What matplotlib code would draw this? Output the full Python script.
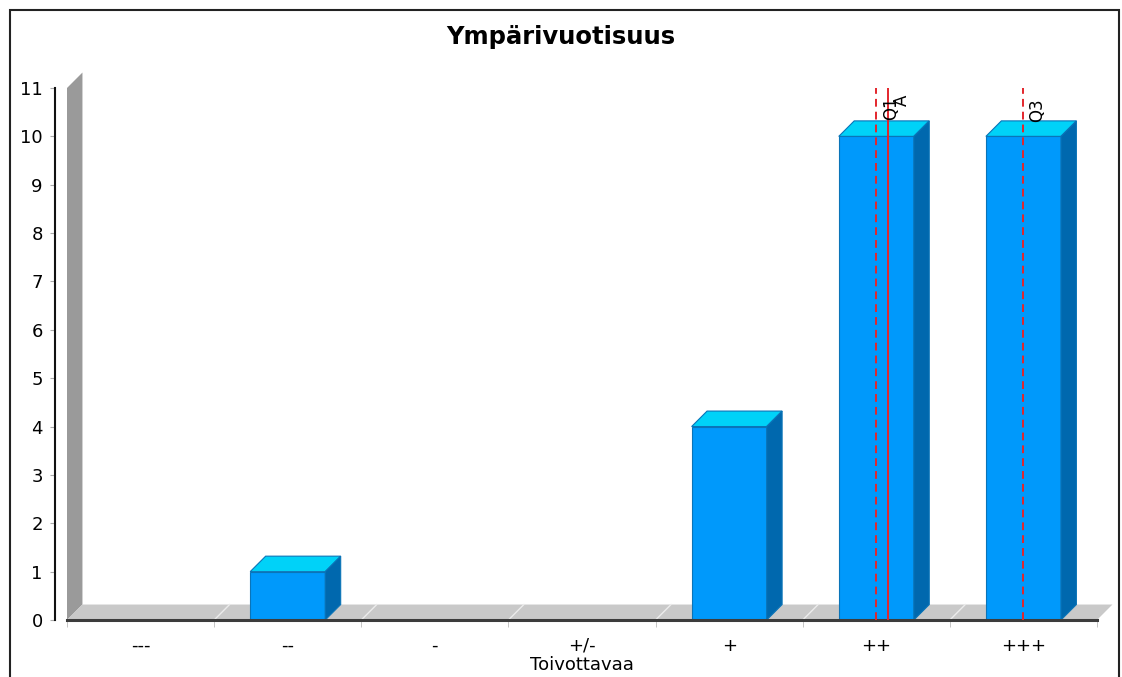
import numpy as np
import matplotlib.pyplot as plt
from matplotlib.patches import Polygon, Rectangle

# data
categories = ['---', '--', '-', '+/-', '+', '++', '+++']
counts = [0, 1, 0, 0, 4, 10, 10]
title = 'Ympärivuotisuus'
xlabel = 'Toivottavaa'

# quartiles / mean as category index
positions = np.arange(len(categories))
q1 = 5
q3 = 6
mean = np.sum(positions * np.array(counts)) / np.sum(counts)

front_col = '#0099fb'
top_col = '#00d2f8'
side_col = '#0068ae'
edge_col = '#0a74b8'
red = '#e3262c'

fig = plt.figure(figsize=(11.22, 6.77), dpi=100)
ax = fig.add_axes([67/1122, 57/677, 1030/1122, 532/677])
ax.set_xlim(-0.5, len(categories) - 0.5)
ax.set_ylim(0, 11)

# 3d depth in data units (about 15 px each way)
dx = 0.105
dy = 0.32
w = 0.51

# back wall and floor
ax.add_patch(Polygon([(-0.5, 0), (-0.5, 11), (-0.5 + dx, 11 + dy), (-0.5 + dx, dy)],
                     closed=True, fc='#9a9a9a', ec='none', clip_on=False, zorder=1))
ax.add_patch(Polygon([(-0.5, 0), (6.5, 0), (6.5 + dx, dy), (-0.5 + dx, dy)],
                     closed=True, fc='#c9c9c9', ec='none', clip_on=False, zorder=1.5))
for b in np.arange(0.5, 6.5, 1.0):
    ax.plot([b, b + dx], [0, dy], color='#ececec', lw=1.0, zorder=1.6, clip_on=False)

# bars
for i, v in zip(positions, counts):
    if v <= 0:
        continue
    l, r = i - w/2, i + w/2
    ax.add_patch(Rectangle((l, 0), w, v, fc=front_col, ec=edge_col, lw=0.8, zorder=3))
    ax.add_patch(Polygon([(l, v), (r, v), (r + dx, v + dy), (l + dx, v + dy)],
                         closed=True, fc=top_col, ec=edge_col, lw=0.8, zorder=3, clip_on=False))
    ax.add_patch(Polygon([(r, 0), (r + dx, dy), (r + dx, v + dy), (r, v)],
                         closed=True, fc=side_col, ec=edge_col, lw=0.8, zorder=3, clip_on=False))

# quartile and mean lines
ax.axvline(q1, color=red, lw=1.4, ls=(0, (4, 2.6)), zorder=5)
ax.axvline(q3, color=red, lw=1.4, ls=(0, (4, 2.6)), zorder=5)
ax.axvline(mean, color=red, lw=1.4, zorder=5)
ax.text(q1 + 0.04, 10.34, 'Q1', rotation=90, ha='left', va='bottom', fontsize=12, zorder=6)
ax.text(mean + 0.035, 10.62, 'A', rotation=90, ha='left', va='bottom', fontsize=12, zorder=6)
ax.text(q3 + 0.035, 10.3, 'Q3', rotation=90, ha='left', va='bottom', fontsize=12, zorder=6)

# axes styling
for s in ['top', 'right']:
    ax.spines[s].set_visible(False)
ax.spines['left'].set_position(('outward', 9))
ax.spines['left'].set_linewidth(1.5)
ax.spines['left'].set_color('#111111')
ax.spines['bottom'].set_linewidth(2.2)
ax.spines['bottom'].set_color('#3c3c3c')
ax.spines['bottom'].set_zorder(4)

ax.set_yticks(range(0, 12))
ax.tick_params(axis='y', length=3.5, color='#aaaaaa', pad=5, labelsize=13)
ax.set_xticks(positions)
ax.set_xticklabels(categories)
ax.set_xticks(np.arange(-0.5, 7.0, 1.0), minor=True)
ax.tick_params(axis='x', which='major', length=0, pad=12, labelsize=13)
ax.tick_params(axis='x', which='minor', length=5, color='#bbbbbb')
ax.set_xlabel(xlabel, fontsize=13, labelpad=1)

fig.text(0.5, 1 - 37/677, title, ha='center', va='center', fontsize=17.5, fontweight='bold')

# outer frame
fig.patches.append(Rectangle((10/1122, -0.02), 1109/1122, 1 - 10/677 + 0.02, fill=False,
                             ec='#222222', lw=1.5, transform=fig.transFigure, figure=fig))

fig.savefig('out.png', dpi=100)
